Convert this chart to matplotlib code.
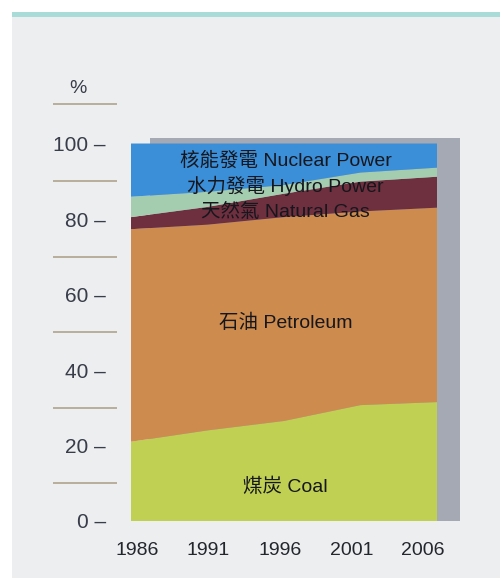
import matplotlib
matplotlib.use("Agg")
import matplotlib.pyplot as plt
from matplotlib.patches import Rectangle

years = [1986, 1991, 1996, 2001, 2006]
coal = [21.0, 24.0, 26.5, 30.7, 31.5]
petroleum = [56.3, 54.5, 54.0, 51.3, 51.5]
natural_gas = [3.2, 4.7, 6.2, 7.9, 8.2]
hydro = [5.4, 4.0, 2.3, 2.4, 2.4]
nuclear = [14.1, 12.8, 11.0, 7.7, 6.4]

series_labels = ["煤炭 Coal", "石油 Petroleum", "天然氣 Natural Gas",
                 "水力發電 Hydro Power", "核能發電 Nuclear Power"]
yticks = [0, 20, 40, 60, 80, 100]
colors = ["#c0d052", "#cd8c4d", "#6e2f3e", "#a4cdb0", "#3b8fd8"]

FONT = ["Liberation Sans", "Noto Sans CJK TC", "DejaVu Sans"]
plt.rcParams["font.family"] = FONT

fig = plt.figure(figsize=(5.0, 5.78), dpi=100)
fig.patch.set_facecolor("#eceef0")
W, H = 500, 578

# white margins and teal stripe
fig.patches.append(Rectangle((0, 0), 12 / W, 1, transform=fig.transFigure,
                             facecolor="white", edgecolor="none", zorder=0))
fig.patches.append(Rectangle((0, 1 - 12 / H), 1, 12 / H, transform=fig.transFigure,
                             facecolor="white", edgecolor="none", zorder=0))
fig.patches.append(Rectangle((12 / W, 1 - 17 / H), 1, 5 / H, transform=fig.transFigure,
                             facecolor="#a9dcd8", edgecolor="none", zorder=0))

left, right = 131, 437
bottom_px, top_px = 521, 142
rect = [left / W, 1 - bottom_px / H, (right - left) / W, (bottom_px - top_px) / H]

ax = fig.add_axes(rect)
ax.set_facecolor("none")
ax.set_xlim(years[0], years[-1])
ax.set_ylim(0, 100.4)

# drop shadow
ax.add_patch(Rectangle((0.062, 0), 1.075 - 0.062, 1.01, transform=ax.transAxes,
                       facecolor="#a4a9b4", edgecolor="none", zorder=0, clip_on=False))

ax.stackplot(years, coal, petroleum, natural_gas, hydro, nuclear,
             colors=colors, linewidth=0, zorder=2)

for s in ax.spines.values():
    s.set_visible(False)
ax.set_xticks([])
ax.set_yticks(yticks)
ax.set_yticklabels([f"{v} –" for v in yticks], fontsize=15, color="#393c49")
ax.tick_params(axis="y", length=0, pad=18)

# tan separator lines
ax.hlines([10, 30, 50, 70, 90, 110.5], -0.255, -0.046,
          transform=ax.get_yaxis_transform(), colors="#b5a994",
          linewidth=1.3, clip_on=False)
ax.text(-0.173, 114.5, "%", transform=ax.get_yaxis_transform(), ha="center",
        va="center", fontsize=14, color="#393c49")

# series labels
txt_kw = dict(ha="center", va="center", color="#16161d", fontsize=14, zorder=5,
              transform=ax.get_yaxis_transform())
ax.text(0.505, 95.6, series_labels[4], **txt_kw)
ax.text(0.505, 88.7, series_labels[3], **txt_kw)
ax.text(0.505, 81.9, series_labels[2], **txt_kw)
ax.text(0.505, 52.5, series_labels[1], **txt_kw)
ax.text(0.505, 9.0, series_labels[0], **txt_kw)

# year labels axis
axl = fig.add_axes(rect)
axl.patch.set_visible(False)
axl.set_xlim(1985.58, 2006.98)
axl.set_yticks([])
for s in axl.spines.values():
    s.set_visible(False)
axl.set_xticks(years)
axl.set_xticklabels([str(y) for y in years], fontsize=14, color="#24262e")
axl.tick_params(axis="x", length=0, pad=15)

fig.savefig("out.png", dpi=100, facecolor=fig.get_facecolor())
